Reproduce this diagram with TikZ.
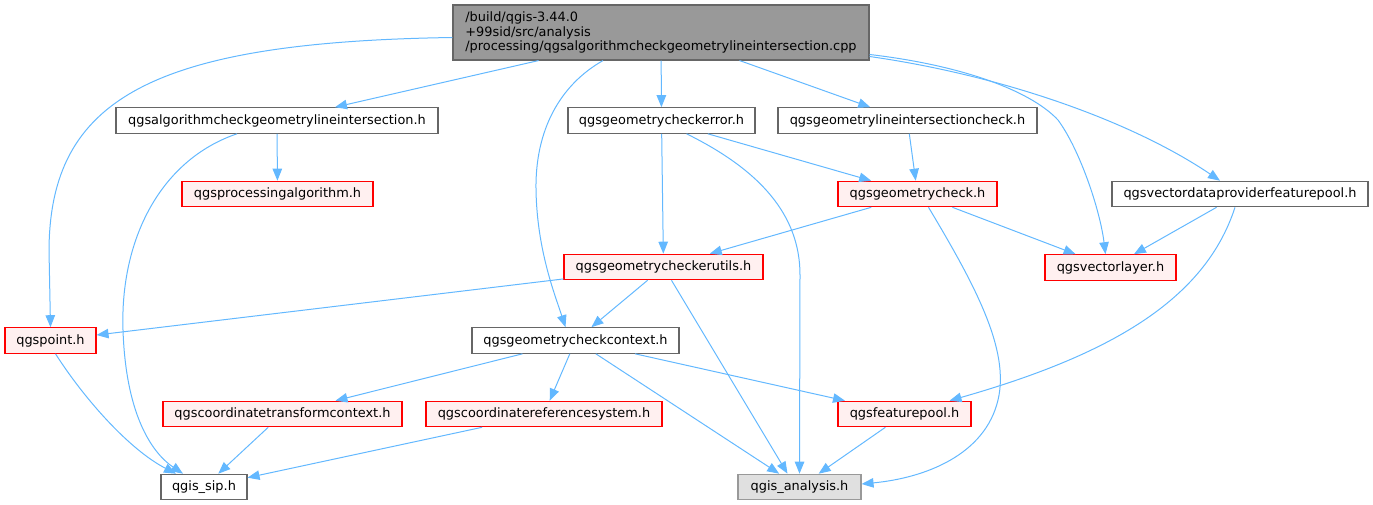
\documentclass[tikz,border=0pt]{standalone}
\usepackage{fontspec}
\setmainfont{DejaVu Sans}
\usetikzlibrary{arrows.meta}
\begin{document}
\begin{tikzpicture}[x=1pt, y=-1pt,% include graph
	box/.style={draw={rgb,255:red,102; green,102; blue,102}, fill=white, line width=1.1pt, inner sep=0pt, minimum height=25.5pt, font=\fontsize{12.9}{14.5}\selectfont},
	redbox/.style={box, draw={rgb,255:red,255; green,0; blue,0}, fill={rgb,255:red,255; green,240; blue,240}},
	greybox/.style={box, draw={rgb,255:red,153; green,153; blue,153}, fill={rgb,255:red,224; green,224; blue,224}},
	dep/.style={draw={rgb,255:red,99; green,184; blue,255}, line width=1pt, -{Triangle[length=12pt, width=9.5pt]}}]
	\useasboundingbox (0,0) rectangle (1373,505);
	\node[box, fill={rgb,255:red,153; green,153; blue,153}, minimum width=416pt, minimum height=55pt, align=left] (main) at (661,32.5) {/build/qgis-3.44.0\\+99sid/src/analysis\\/processing/qgsalgorithmcheckgeometrylineintersection.cpp};
	\node[box, minimum width=322pt] (algo) at (277,120.5) {qgsalgorithmcheckgeometrylineintersection.h};
	\node[box, minimum width=187pt] (checkerror) at (661.5,120.5) {qgsgeometrycheckerror.h};
	\node[box, minimum width=259pt] (lic) at (907.5,120.5) {qgsgeometrylineintersectioncheck.h};
	\node[redbox, minimum width=191pt] (proc) at (277.5,194) {qgsprocessingalgorithm.h};
	\node[redbox, minimum width=159pt] (geomcheck) at (917.5,194) {qgsgeometrycheck.h};
	\node[box, minimum width=256pt] (vdpfp) at (1240,194) {qgsvectordataproviderfeaturepool.h};
	\node[redbox, minimum width=199pt] (checkerutils) at (663.5,267) {qgsgeometrycheckerutils.h};
	\node[redbox, minimum width=131pt] (vectorlayer) at (1110.5,267.5) {qgsvectorlayer.h};
	\node[redbox, minimum width=91pt] (qgspoint) at (50.5,340.5) {qgspoint.h};
	\node[box, minimum width=207pt] (context) at (575.5,340.5) {qgsgeometrycheckcontext.h};
	\node[redbox, minimum width=239pt] (coordtrans) at (282.5,414) {qgscoordinatetransformcontext.h};
	\node[redbox, minimum width=236pt] (crs) at (544,414) {qgscoordinatereferencesystem.h};
	\node[redbox, minimum width=133pt] (featurepool) at (904.5,414) {qgsfeaturepool.h};
	\node[box, minimum width=86pt] (sip) at (204,487) {qgis\_sip.h};
	\node[greybox, minimum width=123pt] (analysis) at (799.5,487) {qgis\_analysis.h};
	\draw[dep] ([yshift=-5pt]main.west) .. controls (150,42) and (50,100) .. (49,250) -- (qgspoint.north);
	\draw[dep] (main) -- (algo);
	\draw[dep] ([xshift=-58pt]main.south) .. controls (560,85) and (535,130) .. (536,190) .. controls (537,250) and (555,295) .. ([xshift=-10pt]context.north);
	\draw[dep] (main) -- (checkerror);
	\draw[dep] (main) -- (lic);
	\draw[dep] ([yshift=-22pt]main.east) .. controls (960,65) and (1030,90) .. (1058,120) .. controls (1080,150) and (1100,210) .. ([xshift=-5pt]vectorlayer.north);
	\draw[dep] ([yshift=-24pt]main.east) .. controls (1000,75) and (1130,120) .. ([xshift=-20pt]vdpfp.north);
	\draw[dep] (algo) -- (proc);
	\draw[dep] ([xshift=-40pt]algo.south) .. controls (160,160) and (120,240) .. (123,330) .. controls (126,420) and (155,455) .. ([xshift=-21pt]sip.north);
	\draw[dep] (checkerror) -- (checkerutils);
	\draw[dep] (checkerror) -- (geomcheck);
	\draw[dep] ([xshift=25pt]checkerror.south) .. controls (760,170) and (800,215) .. (800,275) -- (analysis.north);
	\draw[dep] (lic) -- (geomcheck);
	\draw[dep] (geomcheck) -- (checkerutils);
	\draw[dep] (geomcheck) -- (vectorlayer);
	\draw[dep] ([xshift=11pt]geomcheck.south) .. controls (975,285) and (1010,350) .. (998,400) .. controls (985,455) and (925,478) .. ([yshift=3pt]analysis.east);
	\draw[dep] (vdpfp) -- (vectorlayer);
	\draw[dep] ([xshift=-5pt]vdpfp.south) .. controls (1205,300) and (1110,355) .. ([xshift=45pt]featurepool.north);
	\draw[dep] (checkerutils) -- (qgspoint);
	\draw[dep] (checkerutils) -- (context);
	\draw[dep] (checkerutils) -- ([xshift=-12pt]analysis.north);
	\draw[dep] ([xshift=5pt]qgspoint.south) .. controls (85,400) and (130,450) .. ([xshift=-28pt]sip.north);
	\draw[dep] (context) -- (coordtrans);
	\draw[dep] (context) -- (crs);
	\draw[dep] (context) -- (analysis);
	\draw[dep] (context) -- (featurepool);
	\draw[dep] (coordtrans) -- (sip);
	\draw[dep] (crs) -- (sip);
	\draw[dep] (featurepool) -- (analysis);
\end{tikzpicture}
\end{document}
